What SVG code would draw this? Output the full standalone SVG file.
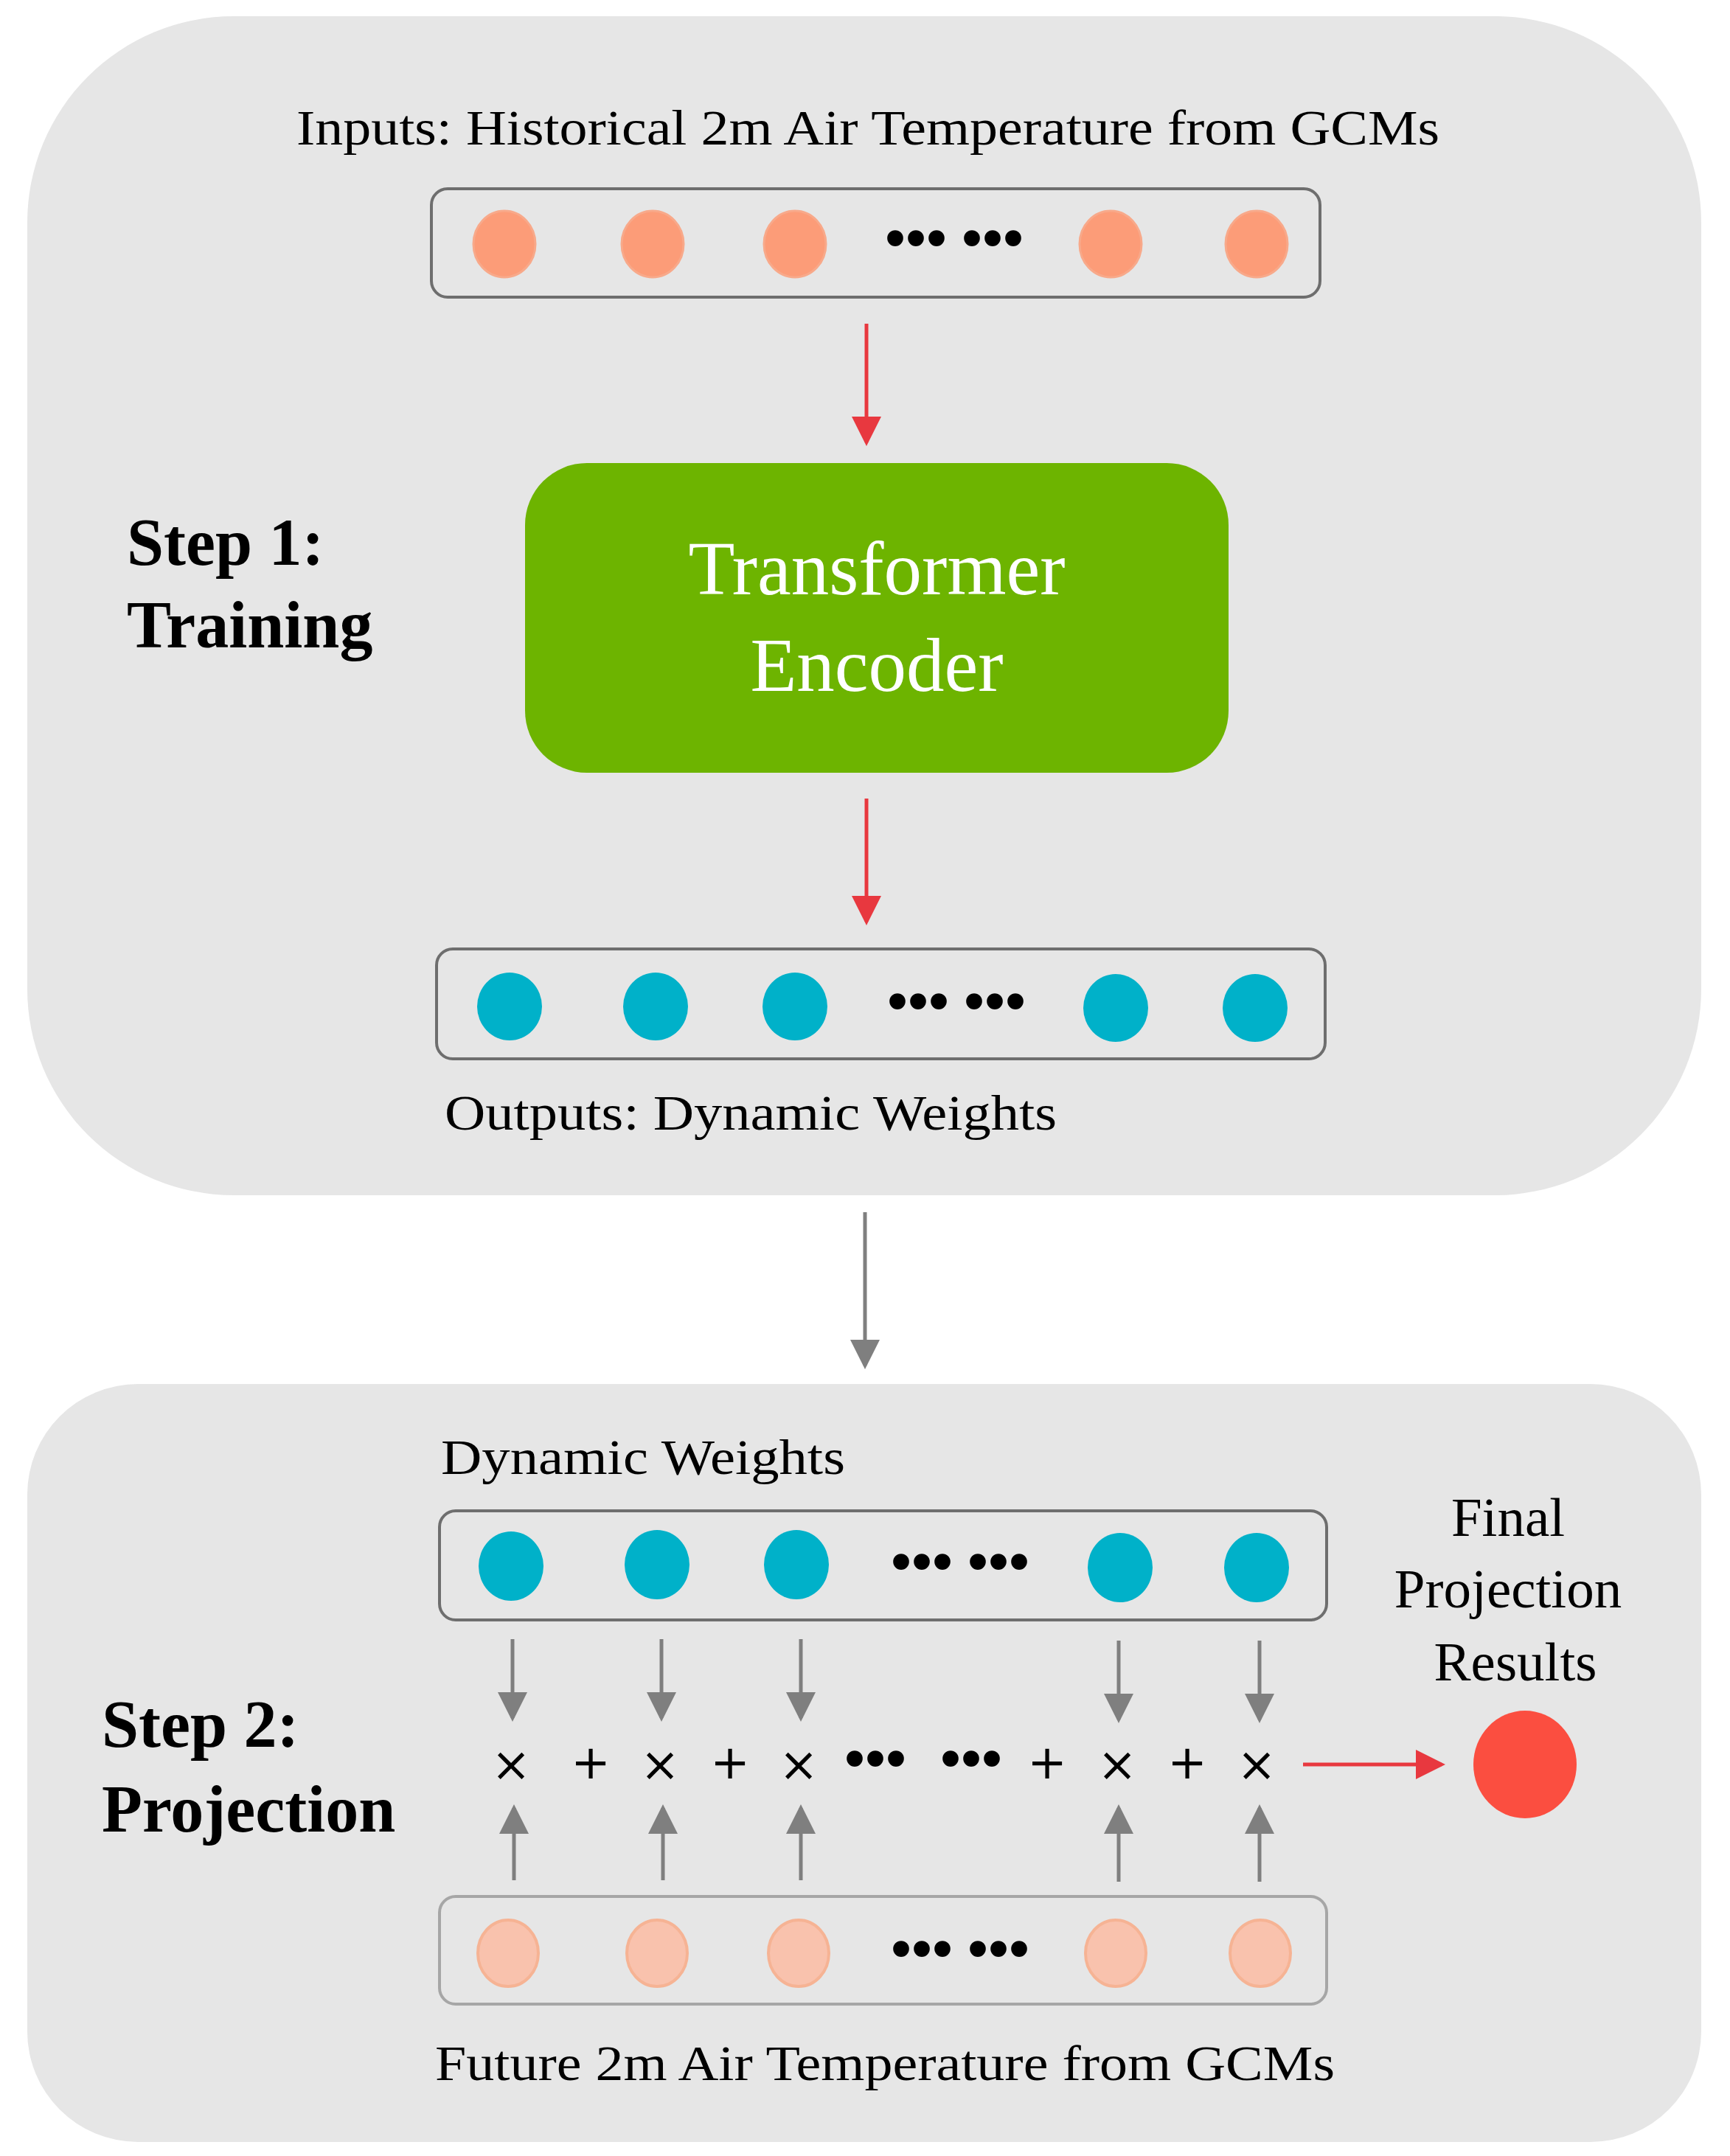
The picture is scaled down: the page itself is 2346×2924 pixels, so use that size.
<svg xmlns="http://www.w3.org/2000/svg" width="2346" height="2924" viewBox="0 0 2346 2924">
<defs>
<style>
.t{font-family:"Liberation Serif","Times New Roman",serif;fill:#000}
.panel{fill:#e6e6e6}
.box{fill:#e6e6e6;stroke:#6e6e6e;stroke-width:4}
.box2{fill:#e6e6e6;stroke:#a6a6a6;stroke-width:4}
.o{fill:#fc9c78;stroke:#f8a98a;stroke-width:3}
.b{fill:#00b1c9}
.l{fill:#f9c2ad;stroke:#f6b394;stroke-width:4}
.red{stroke:#e8383f;stroke-width:5;fill:none}
.gray{stroke:#7f7f7f;stroke-width:5;fill:none}
.op{font-family:"DejaVu Sans",sans-serif;font-size:64px;fill:#000;text-anchor:middle}
.dots{font-family:"Liberation Serif",serif;font-size:80px;font-weight:bold;fill:#000}
</style>
<marker id="ar" markerWidth="8" markerHeight="8" refX="7" refY="4" orient="auto" markerUnits="strokeWidth"><path d="M0,0 L8,4 L0,8 Z" fill="#e8383f"/></marker>
<marker id="ag" markerWidth="8" markerHeight="8" refX="7" refY="4" orient="auto" markerUnits="strokeWidth"><path d="M0,0 L8,4 L0,8 Z" fill="#7f7f7f"/></marker>
</defs>
<rect width="2346" height="2924" fill="#fff"/>
<g id="panel1">
<rect class="panel" x="37" y="22" width="2270" height="1599" rx="280"/>
<text class="t" x="1177" y="196" font-size="68" text-anchor="middle" textLength="1550" lengthAdjust="spacingAndGlyphs">Inputs: Historical 2m Air Temperature from GCMs</text>
<text class="t" x="172" y="766" font-size="90" font-weight="bold">Step 1:</text>
<text class="t" x="172" y="878" font-size="90" font-weight="bold">Training</text>
</g>
<g id="inputs">
<rect class="box" x="585" y="256" width="1205" height="147" rx="22"/>
<ellipse class="o" cx="684" cy="331" rx="42" ry="45"/>
<ellipse class="o" cx="885" cy="331" rx="42" ry="45"/>
<ellipse class="o" cx="1078" cy="331" rx="42" ry="45"/>
<ellipse class="o" cx="1506" cy="331" rx="42" ry="45"/>
<ellipse class="o" cx="1704" cy="331" rx="42" ry="45"/>
<text class="dots" x="1200" y="350">••• •••</text>
</g>
<g id="encoder">
<rect x="712" y="628" width="954" height="420" rx="84" fill="#6db400"/>
<text class="t" x="1189" y="806" font-size="103" fill="#fff" style="fill:#fff" text-anchor="middle">Transformer</text>
<text class="t" x="1189" y="937" font-size="103" style="fill:#fff" text-anchor="middle">Encoder</text>
</g>
<g id="outputs">
<rect class="box" x="592" y="1287" width="1205" height="149" rx="22"/>
<ellipse class="b" cx="691" cy="1365" rx="44" ry="46"/>
<ellipse class="b" cx="889" cy="1365" rx="44" ry="46"/>
<ellipse class="b" cx="1078" cy="1365" rx="44" ry="46"/>
<ellipse class="b" cx="1513" cy="1367" rx="44" ry="46"/>
<ellipse class="b" cx="1702" cy="1367" rx="44" ry="46"/>
<text class="dots" x="1203" y="1385">••• •••</text>
<text class="t" x="603" y="1532" font-size="68" textLength="830" lengthAdjust="spacingAndGlyphs">Outputs: Dynamic Weights</text>
</g>
<g id="panel2">
<rect class="panel" x="37" y="1877" width="2270" height="1028" rx="150"/>
<text class="t" x="138" y="2369" font-size="90" font-weight="bold">Step 2:</text>
<text class="t" x="138" y="2484" font-size="90" font-weight="bold">Projection</text>
<text class="t" x="598" y="1999" font-size="68" textLength="548" lengthAdjust="spacingAndGlyphs">Dynamic Weights</text>
<text class="t" x="2045" y="2083" font-size="75" text-anchor="middle">Final</text>
<text class="t" x="2045" y="2180" font-size="75" text-anchor="middle">Projection</text>
<text class="t" x="2055" y="2279" font-size="75" text-anchor="middle">Results</text>
</g>
<g id="weights">
<rect class="box" x="596" y="2049" width="1203" height="148" rx="22"/>
<ellipse class="b" cx="693" cy="2124" rx="44" ry="47"/>
<ellipse class="b" cx="891" cy="2122" rx="44" ry="47"/>
<ellipse class="b" cx="1080" cy="2122" rx="44" ry="47"/>
<ellipse class="b" cx="1519" cy="2126" rx="44" ry="47"/>
<ellipse class="b" cx="1704" cy="2126" rx="44" ry="47"/>
<text class="dots" x="1208" y="2145">••• •••</text>
</g>
<g id="future">
<rect class="box2" x="596" y="2572" width="1203" height="146" rx="22"/>
<ellipse class="l" cx="689" cy="2649" rx="41" ry="45"/>
<ellipse class="l" cx="891" cy="2649" rx="41" ry="45"/>
<ellipse class="l" cx="1083" cy="2649" rx="41" ry="45"/>
<ellipse class="l" cx="1513" cy="2649" rx="41" ry="45"/>
<ellipse class="l" cx="1709" cy="2649" rx="41" ry="45"/>
<text class="dots" x="1208" y="2670">••• •••</text>
<text class="t" x="1200" y="2821" font-size="68" text-anchor="middle" textLength="1220" lengthAdjust="spacingAndGlyphs">Future 2m Air Temperature from GCMs</text>
</g>
<g id="ops">
<text class="op" x="693" y="2415">×</text>
<text class="op" x="801" y="2412">+</text>
<text class="op" x="895" y="2415">×</text>
<text class="op" x="990" y="2412">+</text>
<text class="op" x="1083" y="2415">×</text>
<text class="dots" x="1145" y="2412" font-size="70">•••</text>
<text class="dots" x="1275" y="2412" font-size="70">•••</text>
<text class="op" x="1420" y="2412">+</text>
<text class="op" x="1515" y="2415">×</text>
<text class="op" x="1610" y="2412">+</text>
<text class="op" x="1704" y="2415">×</text>
</g>
<g id="result">
<ellipse cx="2068" cy="2393" rx="70" ry="73" fill="#fb4e40"/>
</g>
<g id="connectors">
<line class="red" x1="1175" y1="439" x2="1175" y2="600" marker-end="url(#ar)"/>
<line class="red" x1="1175" y1="1083" x2="1175" y2="1250" marker-end="url(#ar)"/>
<line class="gray" x1="1173" y1="1644" x2="1173" y2="1852" marker-end="url(#ag)"/>
<line class="red" x1="1767" y1="2393" x2="1955" y2="2393" marker-end="url(#ar)"/>
<g class="gray" marker-end="url(#ag)">
<line x1="695" y1="2223" x2="695" y2="2330"/>
<line x1="897" y1="2223" x2="897" y2="2330"/>
<line x1="1086" y1="2223" x2="1086" y2="2330"/>
<line x1="1517" y1="2225" x2="1517" y2="2332"/>
<line x1="1708" y1="2225" x2="1708" y2="2332"/>
<line x1="697" y1="2550" x2="697" y2="2452"/>
<line x1="899" y1="2550" x2="899" y2="2452"/>
<line x1="1086" y1="2550" x2="1086" y2="2452"/>
<line x1="1517" y1="2552" x2="1517" y2="2452"/>
<line x1="1708" y1="2552" x2="1708" y2="2452"/>
</g>
</g>
</svg>
